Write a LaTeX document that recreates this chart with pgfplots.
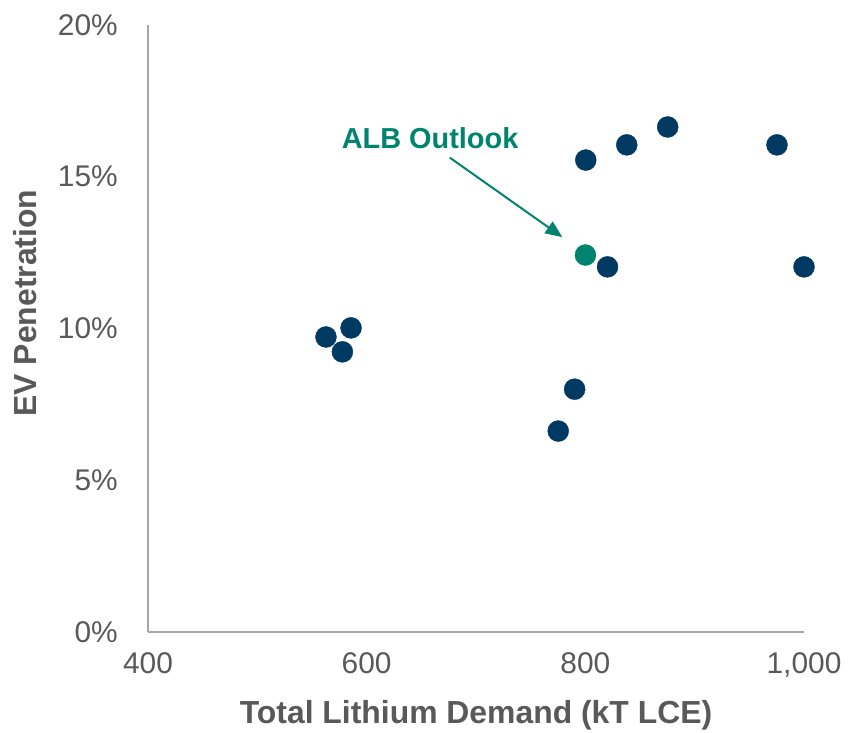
\documentclass[border=0pt]{standalone}
\usepackage{pgfplots}
\pgfplotsset{compat=1.18}
\usetikzlibrary{arrows.meta}
\usepackage{fontspec}
\setmainfont{Liberation Sans}
\definecolor{navy}{HTML}{003A63}
\definecolor{tealg}{HTML}{00846F}
\definecolor{txtgray}{HTML}{595959}
\definecolor{axgray}{HTML}{A6A6A6}
\begin{document}
\begin{tikzpicture}
\path[use as bounding box] (-148bp,-101bp) rectangle (700bp,632bp);
\begin{axis}[
  at={(0bp,0bp)}, anchor=south west,
  scale only axis, width=656bp, height=607bp,
  xmin=400, xmax=1000, ymin=0, ymax=20,
  clip=false,
  axis lines=left,
  axis line style={-, draw=axgray, line width=1.5bp},
  major tick length=0pt,
  xtick={400,600,800,1000},
  xticklabels={400,600,800,{1,000}},
  ytick={0,5,10,15,20},
  yticklabels={0\%,5\%,10\%,15\%,20\%},
  tick label style={font=\fontsize{30}{36}\selectfont, text=txtgray, inner sep=0pt},
  xticklabel style={anchor=north, yshift=-20bp},
  yticklabel style={anchor=east, xshift=-30bp},
  xlabel={Total Lithium Demand (kT LCE)},
  ylabel={EV Penetration},
  xlabel style={font=\bfseries\fontsize{32}{36}\selectfont, text=txtgray, at={(axis description cs:0.5,0)}, anchor=center, yshift=-83bp},
  ylabel style={font=\bfseries\fontsize{32}{36}\selectfont, text=txtgray, at={(axis description cs:0,0.542)}, anchor=center, yshift=123bp},
]
\addplot[only marks, mark=*, mark size=10.5bp, color=navy] coordinates {
  (562.8,9.72) (585.7,10.02) (577.8,9.23) (775.2,6.62) (790.2,8.00)
  (820.3,12.03) (800.4,15.55) (837.9,16.05) (875.3,16.64) (975.3,16.05) (1000,12.03)
};
\addplot[only marks, mark=*, mark size=10.5bp, color=tealg] coordinates {(800.1,12.42)};
\draw[tealg, line width=2bp, -{Triangle[length=17bp,width=14bp]}] (axis cs:676,15.63) -- (axis cs:779,13.01);
\node[text=tealg, font=\bfseries\fontsize{29}{34}\selectfont] at (axis cs:658,16.28) {ALB Outlook};
\end{axis}
\end{tikzpicture}
\end{document}
